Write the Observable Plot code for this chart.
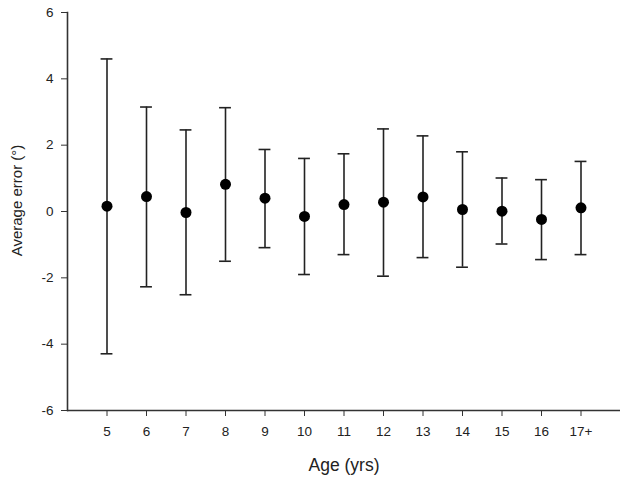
<!DOCTYPE html>
<html>
<head>
<meta charset="utf-8">
<script src="https://cdn.jsdelivr.net/npm/d3@7"></script>
<script src="https://cdn.jsdelivr.net/npm/@observablehq/plot@0.6"></script>
<style>
  html, body { margin: 0; padding: 0; background: white; }
</style>
</head>
<body>
<div id="chart"></div>
<script>
const ages = ["5", "6", "7", "8", "9", "10", "11", "12", "13", "14", "15", "16", "17+"];
const means = [0.16, 0.45, -0.03, 0.82, 0.40, -0.15, 0.21, 0.28, 0.44, 0.06, 0.01, -0.24, 0.11];
const upper = [4.60, 3.15, 2.46, 3.13, 1.87, 1.60, 1.74, 2.49, 2.28, 1.80, 1.01, 0.96, 1.51];
const lower = [-4.29, -2.27, -2.51, -1.50, -1.09, -1.90, -1.30, -1.95, -1.39, -1.68, -0.98, -1.45, -1.30];
const yTicks = [-6, -4, -2, 0, 2, 4, 6];

const data = ages.map((a, i) => ({age: a, mean: means[i], hi: upper[i], lo: lower[i]}));

const chart = Plot.plot({
  width: 630,
  height: 480,
  marginLeft: 67,
  marginRight: 10,
  marginTop: 12,
  marginBottom: 70,
  style: {fontFamily: "'Liberation Sans', Arial, sans-serif", fontSize: "13px", background: "white", color: "#222"},
  x: {type: "band", domain: ages, paddingInner: 0.7, paddingOuter: 0.85, round: false},
  y: {domain: [-6, 6]},
  marks: [
    Plot.axisY({ticks: yTicks, tickFormat: d => String(d), tickSize: 6, tickPadding: 8, label: null, stroke: "#333", fontSize: 13.5}),
    Plot.axisX({tickSize: 6, tickPadding: 10, label: null, stroke: "#333", fontSize: 13.5}),
    Plot.ruleY([-6], {stroke: "#333", strokeWidth: 1.6}),
    Plot.frame({anchor: "left", stroke: "#333", strokeWidth: 1.6}),
    Plot.ruleX(data, {x: "age", y1: "lo", y2: "hi", stroke: "#222", strokeWidth: 1.6}),
    Plot.tickY(data, {x: "age", y: "hi", stroke: "#222", strokeWidth: 1.6}),
    Plot.tickY(data, {x: "age", y: "lo", stroke: "#222", strokeWidth: 1.6}),
    Plot.dot(data, {x: "age", y: "mean", r: 5.5, fill: "black", stroke: "none"}),
    Plot.text(["Average error (°)"], {frameAnchor: "left", textAnchor: "middle", lineAnchor: "middle", dx: -50, dy: -11, rotate: -90, fontSize: 15, fill: "#222"}),
    Plot.text(["Age (yrs)"], {frameAnchor: "bottom", textAnchor: "middle", lineAnchor: "middle", dy: 55, fontSize: 17.5, fill: "#222"})
  ]
});

document.getElementById("chart").appendChild(chart);
</script>
</body>
</html>
